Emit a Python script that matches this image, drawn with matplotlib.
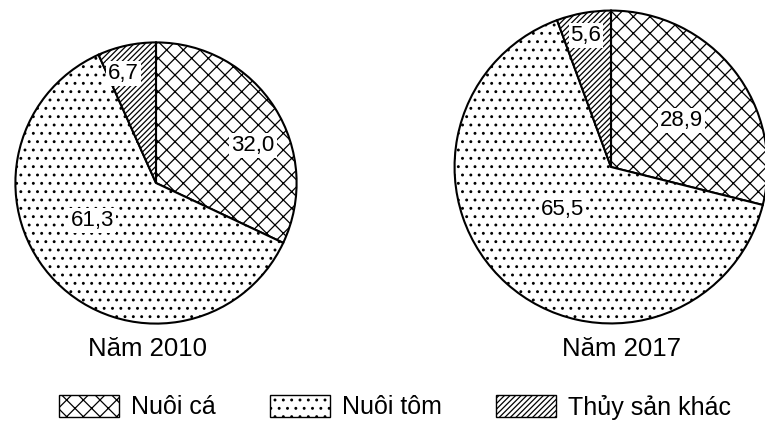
import matplotlib.pyplot as plt
from matplotlib.patches import Patch

plt.rcParams["font.family"] = ["Liberation Sans", "DejaVu Sans"]
plt.rcParams["hatch.linewidth"] = 0.9

categories = ["Nuôi cá", "Nuôi tôm", "Thủy sản khác"]
values_2010 = [32.0, 61.3, 6.7]
values_2017 = [28.9, 65.5, 5.6]
titles = ["Năm 2010", "Năm 2017"]
hatches = ["xx", "..", "//////"]

W, H = 765, 424
fig = plt.figure(figsize=(W / 100, H / 100), dpi=100)


def add_pie(cx, cy, r, values, label_pos):
    ax = fig.add_axes([(cx - r) / W, (H - cy - r) / H, 2 * r / W, 2 * r / H])
    ax.pie(values, startangle=90, counterclock=False, colors=["white"] * 3,
           hatch=hatches, wedgeprops=dict(edgecolor="black", linewidth=1.5))
    ax.set_xlim(-1.01, 1.01)
    ax.set_ylim(-1.01, 1.01)
    for v, (x, y) in zip(values, label_pos):
        ax.text(x, y, f"{v:.1f}".replace(".", ","), ha="center", va="center",
                fontsize=16,
                bbox=dict(facecolor="white", edgecolor="none", pad=1.5))
    return ax


add_pie(156, 183, 142, values_2010, [(0.69, 0.27), (-0.45, -0.27), (-0.23, 0.78)])
add_pie(611, 167, 158, values_2017, [(0.45, 0.30), (-0.31, -0.27), (-0.16, 0.84)])

fig.text(148 / W, 1 - 349 / H, titles[0], ha="center", va="center", fontsize=18.5)
fig.text(621 / W, 1 - 349 / H, titles[1], ha="center", va="center", fontsize=18.5)

handles = [Patch(facecolor="white", edgecolor="black", hatch=h, label=c)
           for h, c in zip(hatches, categories)]
fig.legend(handles=handles, loc="center", bbox_to_anchor=(395 / W, 1 - 407 / H),
           ncol=3, frameon=False, fontsize=18, handlelength=2.4, handleheight=1.0,
           handletextpad=0.45, columnspacing=2.2)

fig.savefig("out.png", dpi=100)
